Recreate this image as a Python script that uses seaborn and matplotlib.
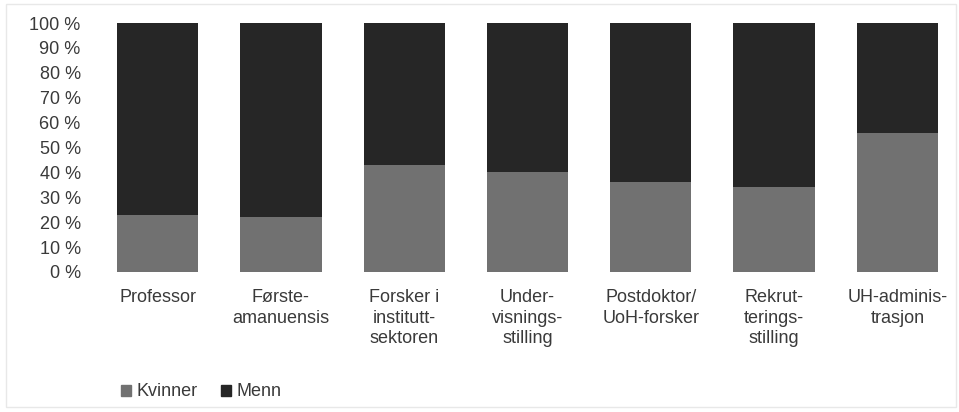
import pandas as pd
import matplotlib
matplotlib.use("Agg")
import matplotlib.pyplot as plt
import seaborn as sns
from matplotlib.patches import Patch, Rectangle

stillinger = ["Professor", "Første-\namanuensis", "Forsker i\ninstitutt-\nsektoren",
              "Under-\nvisnings-\nstilling", "Postdoktor/\nUoH-forsker",
              "Rekrut-\nterings-\nstilling", "UH-adminis-\ntrasjon"]
kvinner = [23, 22, 43, 40, 36, 34, 56]
menn = [77, 78, 57, 60, 64, 66, 44]

df = pd.DataFrame({"stilling": stillinger, "Kvinner": kvinner, "Menn": menn})
df["total"] = df["Kvinner"] + df["Menn"]

sns.set_style("white")
plt.rcParams["font.family"] = ["Liberation Sans", "DejaVu Sans"]

lys = "#717171"
mork = "#262626"
tekst = "#3a3a3a"

fig = plt.figure(figsize=(9.59, 4.12), dpi=100)
ax = fig.add_axes([96 / 959, 1 - 272 / 412, 1 - 96 / 959, (272 - 23) / 412])

# stacked: full bar (Menn on top) first, then Kvinner over it
sns.barplot(data=df, x="stilling", y="total", color=mork, width=0.66,
            saturation=1, ax=ax, edgecolor="none")
sns.barplot(data=df, x="stilling", y="Kvinner", color=lys, width=0.66,
            saturation=1, ax=ax, edgecolor="none")

ax.set_ylim(0, 100)
ax.set_xlim(-0.5, len(stillinger) - 0.5)
ax.set_yticks(range(0, 101, 10))
ax.set_yticklabels([f"{v} %" for v in range(0, 101, 10)], fontsize=13, color=tekst)
ax.set_xticklabels(stillinger, fontsize=13, color=tekst, linespacing=1.3)
ax.tick_params(axis="y", length=0, pad=11)
ax.tick_params(axis="x", length=0, pad=12)
ax.set_xlabel("")
ax.set_ylabel("")
sns.despine(ax=ax, left=True, bottom=True)

handles = [Patch(color=lys, label="Kvinner"), Patch(color=mork, label="Menn")]
fig.legend(handles=handles, loc="center left", bbox_to_anchor=(105 / 959, 1 - 392 / 412),
           ncol=2, frameon=False, fontsize=13, handlelength=0.55, handleheight=0.55,
           handletextpad=0.3, columnspacing=1.3, labelcolor=tekst)

# faint frame around the chart
fig.patches.append(Rectangle((6 / 959, 5 / 412), 950 / 959, 403 / 412, transform=fig.transFigure,
                             fill=False, edgecolor="#e8e8e8", linewidth=1))

fig.savefig("out.png", dpi=100)
